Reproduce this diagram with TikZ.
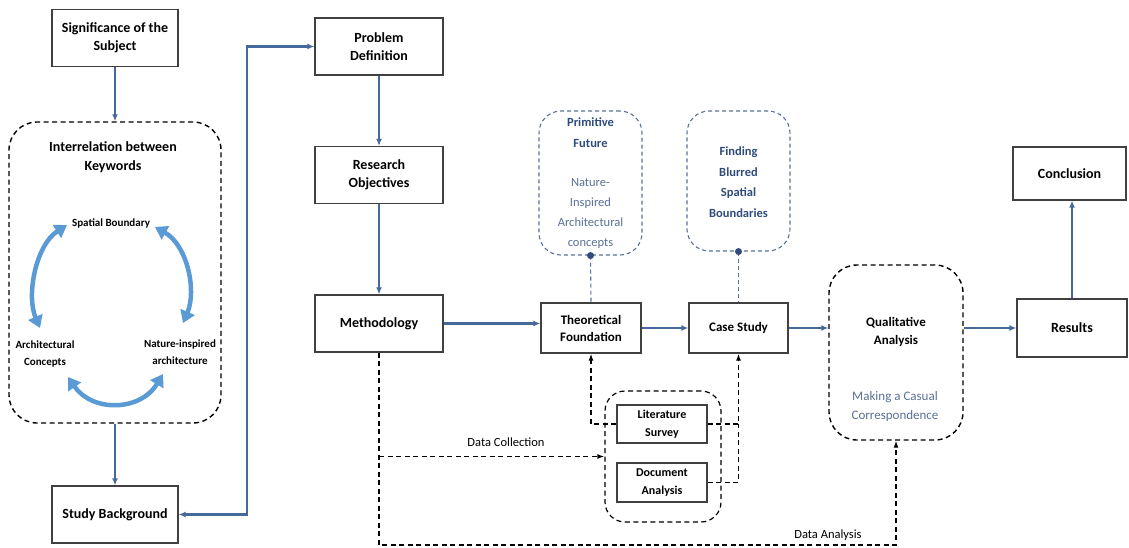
\documentclass[tikz,border=0pt]{standalone}
\usepackage{fontspec}
\setmainfont{Carlito}
\usetikzlibrary{arrows.meta}
\definecolor{flowblue}{HTML}{46689B}
\definecolor{cycblue}{HTML}{5B9BD5}
\definecolor{headblue}{HTML}{2F4B7C}
\definecolor{noteblue}{HTML}{5A7096}
\definecolor{edgegray}{HTML}{404040}
\begin{document}
\begin{tikzpicture}[x=1pt,y=-1pt,
    box/.style={draw=edgegray,line width=1.3pt,align=center,inner sep=0pt,font=\fontsize{14}{18}\selectfont\bfseries},
    hollow/.style={draw=black,line width=1.4pt,dash pattern=on 5pt off 3.5pt,rounded corners=28pt,inner sep=0pt},
    idea/.style={draw=noteblue,line width=1.1pt,dash pattern=on 4pt off 3pt,rounded corners=22pt,inner sep=0pt},
    kw/.style={align=center,inner sep=1pt,font=\fontsize{11}{17}\selectfont\bfseries},
    headtxt/.style={align=center,text=headblue,font=\fontsize{12.5}{20.5}\selectfont\bfseries},
    notetxt/.style={align=center,text=noteblue,font=\fontsize{12.5}{20}\selectfont},
    lbl/.style={inner sep=1pt,font=\fontsize{12.5}{15}\selectfont},
    flow/.style={draw=flowblue,line width=2.1pt,-{Latex[length=7pt,width=6pt]}},
    dashline/.style={draw=black,line width=1.3pt,dash pattern=on 5pt off 3.5pt},
    dashflow/.style={dashline,-{Latex[length=7pt,width=5pt]}},
    ideadash/.style={draw=noteblue,line width=1.1pt,dash pattern=on 4pt off 3pt},
    cyc/.style={draw=cycblue,line width=4.5pt,{Triangle[length=12pt,width=15pt]}-{Triangle[length=12pt,width=15pt]}}]
    \useasboundingbox (0,0) rectangle (1129,548);

    % left column
    \node[box,minimum width=126pt,minimum height=57pt] (signif) at (115,38) {Significance of the\\Subject};
    \node[hollow,minimum width=212pt,minimum height=301pt] (inter) at (115,272.5) {};
    \node[align=center,font=\fontsize{14}{19}\selectfont\bfseries] (intertitle) at (113,157) {Interrelation between\\Keywords};
    \node[kw] (spatial) at (111,223) {Spatial Boundary};
    \node[kw] (archc) at (45,354) {Architectural\\Concepts};
    \node[kw] (natinsp) at (180,352) {Nature-inspired\\architecture};
    \node[box,minimum width=126pt,minimum height=57pt] (studyb) at (115,514.5) {Study Background};

    \coordinate (a1) at (67,225);
    \coordinate (a2) at (40,328);
    \coordinate (b1) at (155,227);
    \coordinate (b2) at (183,323);
    \coordinate (c1) at (68,377);
    \coordinate (c2) at (163,374);
    \draw[cyc] (a1) .. controls (36,245) and (26,295) .. (a2);
    \draw[cyc] (b1) .. controls (187,245) and (197,290) .. (b2);
    \draw[cyc] (c1) .. controls (92,412) and (140,412) .. (c2);

    % main column
    \node[box,minimum width=128pt,minimum height=57pt] (probdef) at (379,46.5) {Problem\\Definition};
    \node[box,minimum width=128pt,minimum height=57pt] (resobj) at (379,175) {Research\\Objectives};
    \node[box,minimum width=128pt,minimum height=57pt] (method) at (379,323.5) {Methodology};

    \node[idea,minimum width=103pt,minimum height=144pt] (primfut) at (590.5,183) {};
    \node[headtxt] (primhead) at (590.5,132.5) {Primitive\\Future};
    \node[notetxt] (primnote) at (590.5,213) {Nature-\\Inspired\\Architectural\\concepts};
    \node[idea,minimum width=103pt,minimum height=140pt] (findbl) at (738.5,181) {};
    \node[headtxt] (findhead) at (738.5,182) {Finding\\Blurred\\Spatial\\Boundaries};

    \node[box,font=\fontsize{13}{17}\selectfont\bfseries,minimum width=100pt,minimum height=50pt] (theory) at (591,328) {Theoretical\\Foundation};
    \node[box,font=\fontsize{13}{17}\selectfont\bfseries,minimum width=99pt,minimum height=50pt] (casest) at (738.5,328) {Case Study};

    \node[hollow,rounded corners=20pt,line width=1.2pt,minimum width=116pt,minimum height=131pt] (collect) at (663,456.5) {};
    \node[box,font=\fontsize{12}{18}\selectfont\bfseries,minimum width=90pt,minimum height=38pt] (litsurv) at (662,424) {Literature\\Survey};
    \node[box,font=\fontsize{12}{18}\selectfont\bfseries,minimum width=90pt,minimum height=39pt] (docan) at (662,482.5) {Document\\Analysis};

    \node[hollow,minimum width=134pt,minimum height=175pt] (qualan) at (896,352.5) {};
    \node[align=center,font=\fontsize{13}{18}\selectfont\bfseries] (qualtxt) at (896,332) {Qualitative\\Analysis};
    \node[align=center,text=noteblue,font=\fontsize{13}{19}\selectfont] (casual) at (895,406.5) {Making a Casual\\Correspondence};

    \node[box,minimum width=110pt,minimum height=58pt] (results) at (1072,328) {Results};
    \node[box,minimum width=113pt,minimum height=53pt] (concl) at (1069.5,173.5) {Conclusion};

    % solid arrows
    \coordinate (turn) at (247,280);
    \draw[flow] (signif.south) -- (inter.north);
    \draw[flow] (inter.south) -- (studyb.north);
    \draw[flow,{Latex[length=7pt,width=6pt]}-{Latex[length=7pt,width=6pt]}] (studyb.east) -| (turn) |- (probdef.west);
    \draw[flow] (probdef.south) -- (resobj.north);
    \draw[flow] (resobj.south) -- (method.north);
    \draw[flow] (method.east) -- (method.east -| theory.west);
    \draw[flow] (theory.east) -- (casest.west);
    \draw[flow] (casest.east) -- (casest.east -| qualan.west);
    \draw[flow] (qualan.east |- results.west) -- (results.west);
    \draw[flow] (results.north) -- (results.north |- concl.south);

    % idea links
    \draw[ideadash] (primfut.south) -- (theory.north);
    \draw[ideadash] (findbl.south) -- (casest.north);
    \fill[headblue] (primfut.south) circle (3.5pt);
    \fill[headblue] (findbl.south) circle (3.5pt);

    % dashed data lines
    \draw[dashflow] (litsurv.west) -| (theory.south);
    \draw[dashflow] (litsurv.east) -| (casest.south);
    \draw[dashline] (docan.east) -| (casest.south |- litsurv.east);
    \draw[dashflow] (method.south |- collect.west) -- (collect.west);
    \node[lbl] (datacoll) at (506,442) {Data Collection};
    \coordinate (anl) at (896,545);
    \draw[dashflow] (method.south) |- (anl) -- (qualan.south);
    \node[lbl] (dataan) at (828,535) {Data Analysis};
\end{tikzpicture}
\end{document}
